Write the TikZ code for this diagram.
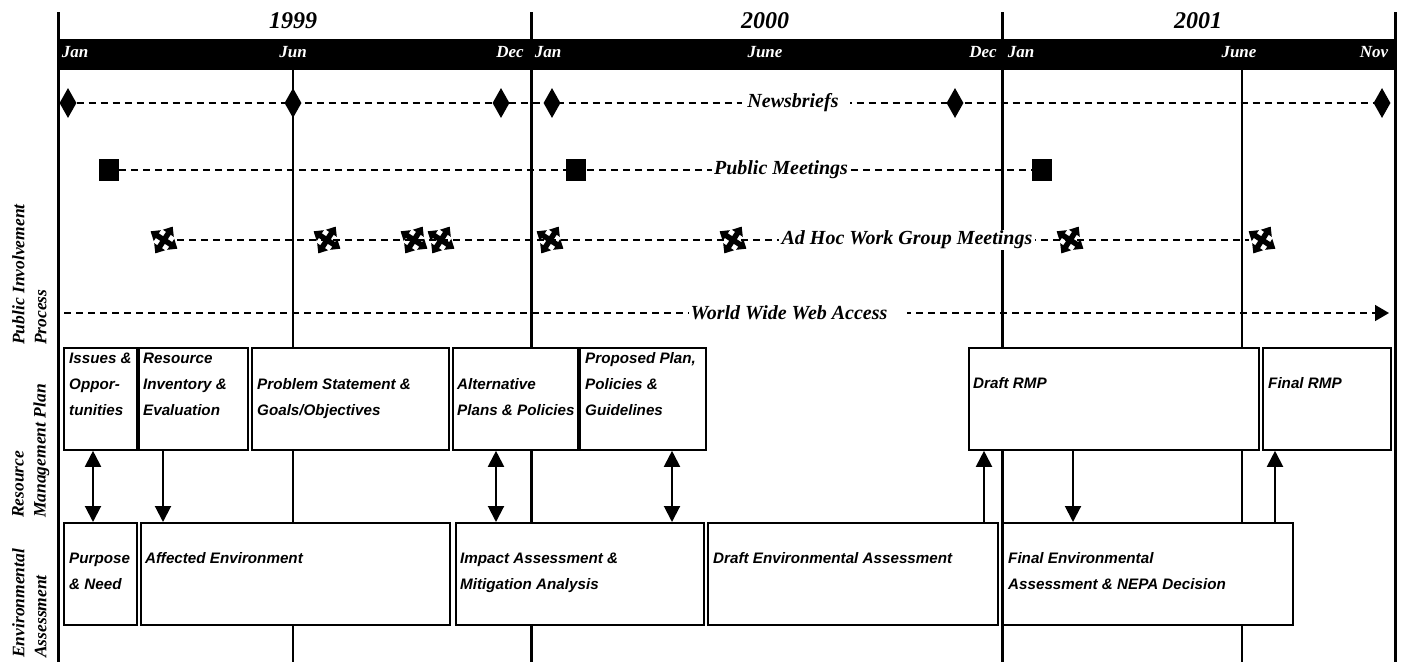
\documentclass[tikz,border=0pt]{standalone}
\usepackage{fontspec}
\setmainfont{Liberation Serif}
\setsansfont{Liberation Sans}
\usetikzlibrary{arrows.meta,shapes.geometric,backgrounds}
\tikzset{
 hdr/.style={font=\fontsize{17}{17}\selectfont\bfseries\itshape, text=white, inner sep=0},
 yr/.style={font=\fontsize{24}{24}\selectfont\bfseries\itshape, inner sep=0},
 rowlbl/.style={font=\fontsize{20}{20}\selectfont\bfseries\itshape, fill=white, inner ysep=1pt, inner xsep=3pt},
 side/.style={font=\fontsize{17.5}{22}\selectfont\bfseries\itshape, rotate=90, align=left, anchor=north west, inner sep=0},
 stage/.style={draw, line width=1.8pt, fill=white, anchor=north west, inner sep=0, minimum height=102pt},
 stxt/.style={font=\sffamily\fontsize{15.2}{26}\selectfont\bfseries\itshape, align=left, anchor=north west, inner sep=0},
 dia/.style={diamond, fill=black, minimum width=17pt, minimum height=30pt, inner sep=0},
 sq/.style={rectangle, fill=black, minimum width=20pt, minimum height=22pt, inner sep=0},
 mv/.style={inner sep=0, minimum size=26pt},
 mvarm/.style={line width=5.5pt, -{Triangle[length=8pt,width=12.5pt]}},
 dsh/.style={dash pattern=on 7pt off 5pt, line width=1.5pt},
 yline/.style={line width=3pt},
 mline/.style={line width=1.5pt},
 conn/.style={line width=2pt, -{Triangle[length=16pt,width=16pt]}},
 dconn/.style={line width=2pt, {Triangle[length=16pt,width=16pt]}-{Triangle[length=16pt,width=16pt]}},
 wwwarr/.style={dsh, -{Triangle[length=14pt,width=16pt]}},
}
\begin{document}
\begin{tikzpicture}[x=1pt,y=-1pt]
\useasboundingbox (0,0) rectangle (1402,662);

% vertical lines
\draw[yline] (58,12) -- (58,662);
\draw[yline] (531,12) -- (531,662);
\draw[yline] (1002,12) -- (1002,662);
\draw[yline] (1395,12) -- (1395,662);
\draw[mline] (293,70) -- (293,662);
\draw[mline] (1242,70) -- (1242,662);

% header bar
\node[fill=black, minimum width=1338pt, minimum height=31pt, anchor=north west, inner sep=0] (bar) at (58,39) {};

% years
\node[yr] (y1999) at (293,21) {1999};
\node[yr] (y2000) at (765,21) {2000};
\node[yr] (y2001) at (1198,21) {2001};

% months
\node[hdr] (mo1) at (75,52) {Jan};
\node[hdr] (mo2) at (293,52) {Jun};
\node[hdr] (mo3) at (510,52) {Dec};
\node[hdr] (mo4) at (548,52) {Jan};
\node[hdr] (mo5) at (765,52) {June};
\node[hdr] (mo6) at (983,52) {Dec};
\node[hdr] (mo7) at (1021,52) {Jan};
\node[hdr] (mo8) at (1239,52) {June};
\node[hdr] (mo9) at (1374,52) {Nov};

% side labels
\node[side] (sPIP) at (12,345) {Public Involvement\\Process};
\node[side] (sRMP) at (12,518) {Resource\\Management Plan};
\node[side] (sEA) at (12,658) {Environmental\\Assessment};

% Newsbriefs
\foreach \n/\x in {d1/68,d2/293,d3/501,d4/552,d5/955,d6/1382}
  \node[dia] (\n) at (\x,103) {};
\begin{pgfonlayer}{background}
  \draw[dsh] (d1) -- (d6);
\end{pgfonlayer}
\node[rowlbl, inner xsep=5pt] (nb) at (796,103) {Newsbriefs\kern6pt};

% Public meetings
\foreach \n/\x in {p1/109,p2/576,p3/1042}
  \node[sq] (\n) at (\x,170) {};
\begin{pgfonlayer}{background}
  \draw[dsh] (p1) -- (p3);
\end{pgfonlayer}
\node[rowlbl, inner xsep=2pt] (pm) at (781,170) {Public Meetings};

% Ad hoc
\foreach \n/\x in {m1/164,m2/327,m3/414,m4/441,m5/550,m6/733,m7/1070,m8/1262}{
  \node[mv] (\n) at (\x,240) {};
  \foreach \a in {57,147,237,327}
    \draw[mvarm] (\n.center) -- ++(\a:16pt);
}
\begin{pgfonlayer}{background}
  \draw[dsh] (m1) -- (m8);
\end{pgfonlayer}
\node[rowlbl, inner xsep=3pt] (ah) at (907,240) {Ad Hoc Work Group Meetings};

% WWW
\coordinate (w0) at (64,313);
\coordinate (w1) at (1389,313);
\draw[wwwarr] (w0) -- (w1);
\node[rowlbl, inner xsep=2pt] (ww) at (798,313) {World Wide Web Access\kern18pt};

% RMP row
\node[stage, minimum width=73pt] (r1) at (63,347) {};
\node[stage, minimum width=109pt] (r2) at (138,347) {};
\node[stage, minimum width=197pt] (r3) at (251,347) {};
\node[stage, minimum width=125pt] (r4) at (452,347) {};
\node[stage, minimum width=126pt] (r5) at (579,347) {};
\node[stage, minimum width=290pt] (r6) at (968,347) {};
\node[stage, minimum width=128pt] (r7) at (1262,347) {};

\node[stxt] (t1) at (69,345.2) {\strut Issues \&\\Oppor-\\tunities};
\node[stxt] (t2) at (143,345.2) {\strut Resource\\Inventory \&\\Evaluation};
\node[stxt] (t3) at (257,371.2) {\strut Problem Statement \&\\Goals/Objectives};
\node[stxt] (t4) at (457,371.2) {\strut Alternative\\Plans \& Policies};
\node[stxt] (t5) at (585,345.2) {\strut Proposed Plan,\\Policies \&\\Guidelines};
\node[stxt] (t6) at (973,370.2) {\strut Draft RMP};
\node[stxt] (t7) at (1268,370.2) {\strut Final RMP};

% EA row
\node[stage, minimum width=73pt] (e1) at (63,522) {};
\node[stage, minimum width=309pt] (e2) at (140,522) {};
\node[stage, minimum width=248pt] (e3) at (455,522) {};
\node[stage, minimum width=290pt] (e4) at (707,522) {};
\node[stage, minimum width=290pt] (e5) at (1002,522) {};

\node[stxt] (u1) at (69,545.2) {\strut Purpose\\\& Need};
\node[stxt] (u2) at (145,545.2) {\strut Affected Environment};
\node[stxt] (u3) at (460,545.2) {\strut Impact Assessment \&\\Mitigation Analysis};
\node[stxt] (u4) at (713,545.2) {\strut Draft Environmental Assessment};
\node[stxt] (u5) at (1008,545.2) {\strut Final Environmental\\Assessment \& NEPA Decision};

% connectors
\draw[dconn] (r1.south -| 93,0) -- (e1.north -| 93,0);
\draw[conn] (r2.south -| 163,0) -- (e2.north -| 163,0);
\draw[dconn] (r4.south -| 496,0) -- (e3.north -| 496,0);
\draw[dconn] (r5.south -| 672,0) -- (e3.north -| 672,0);
\draw[conn] (e4.north -| 984,0) -- (r6.south -| 984,0);
\draw[conn] (r6.south -| 1073,0) -- (e5.north -| 1073,0);
\draw[conn] (e5.north -| 1275,0) -- (r7.south -| 1275,0);
\end{tikzpicture}
\end{document}
